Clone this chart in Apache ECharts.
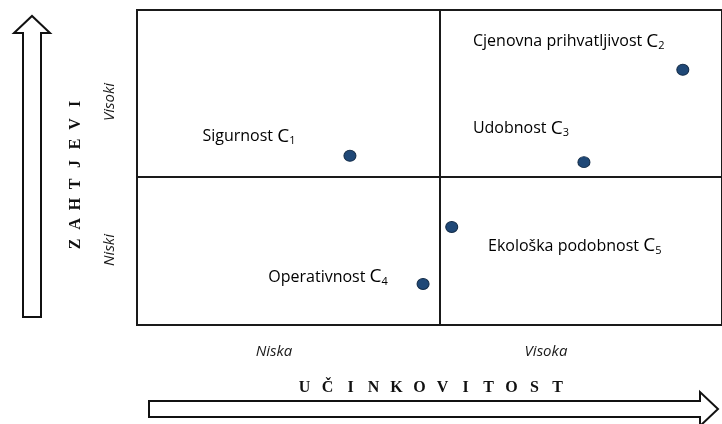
<!DOCTYPE html>
<html>
<head>
<meta charset="utf-8">
<script src="https://cdn.jsdelivr.net/npm/echarts@6/dist/echarts.min.js"></script>
<style>
  html, body { margin: 0; padding: 0; background: #fff; }
  #chart { width: 722px; height: 424px; }
</style>
</head>
<body>
<div id="chart"></div>
<script>
// podaci
const names = ['Sigurnost', 'Cjenovna prihvatljivost', 'Udobnost', 'Operativnost', 'Ekološka podobnost'];
const codes = ['1', '2', '3', '4', '5'];
const effectiveness = [36.4, 93.3, 76.4, 48.9, 53.8];
const requirements = [53.7, 81, 51.7, 13, 31.1];
const xSplit = 51.8;
const ySplit = 47;
const xLevels = ['Niska', 'Visoka'];
const yLevels = ['Niski', 'Visoki'];
const xTitle = 'UČINKOVITOST';
const yTitle = 'ZAHTJEVI';

// pomaci naslova tocaka (px)
const labelOffsets = [[-101, -19], [-114, -28], [-63, -34], [-95, -7], [123, 19]];

const chart = echarts.init(document.getElementById('chart'));

const sans = 'Open Sans';
const serif = 'Liberation Serif';

function spacedLetters(text, cx, cy, step, vertical) {
  const chars = text.split('');
  const n = chars.length;
  return chars.map((ch, i) => ({
    type: 'text',
    x: vertical ? cx : cx - (n - 1) * step / 2 + i * step,
    y: vertical ? cy + (n - 1) * step / 2 - i * step : cy,
    rotation: vertical ? Math.PI / 2 : 0,
    style: {
      text: ch,
      fill: '#111',
      font: 'bold 16px "' + serif + '"',
      align: 'center',
      verticalAlign: 'middle'
    }
  }));
}

function levelText(text, x, y, vertical) {
  return {
    type: 'text',
    x: x,
    y: y,
    rotation: vertical ? Math.PI / 2 : 0,
    style: {
      text: text,
      fill: '#1a1a1a',
      font: 'italic 15px "' + sans + '"',
      align: 'center',
      verticalAlign: 'middle'
    }
  };
}

const arrowStyle = { fill: '#fff', stroke: '#111', lineWidth: 2 };

const graphic = [
  {
    type: 'polygon',
    shape: { points: [[23, 317], [41, 317], [41, 33], [50, 33], [32, 16], [14, 33], [23, 33]] },
    style: arrowStyle
  },
  {
    type: 'polygon',
    shape: { points: [[149, 401], [700, 401], [700, 392], [718, 409], [700, 426], [700, 417], [149, 417]] },
    style: arrowStyle
  },
  levelText(xLevels[0], 274, 352, false),
  levelText(xLevels[1], 546, 352, false),
  levelText(yLevels[0], 110, 250, true),
  levelText(yLevels[1], 110, 102, true)
].concat(spacedLetters(xTitle, 431, 388, 23, false))
 .concat(spacedLetters(yTitle, 76, 174, 20, true));

const option = {
  animation: false,
  grid: {
    left: 137, top: 10, right: -2, bottom: 99,
    show: true, borderColor: '#1a1a1a', borderWidth: 2, backgroundColor: '#fff'
  },
  xAxis: {
    type: 'value', min: 0, max: 100,
    axisLine: { show: false }, axisTick: { show: false },
    axisLabel: { show: false }, splitLine: { show: false }
  },
  yAxis: {
    type: 'value', min: 0, max: 100,
    axisLine: { show: false }, axisTick: { show: false },
    axisLabel: { show: false }, splitLine: { show: false }
  },
  series: [{
    type: 'scatter',
    symbolSize: [12, 11],
    itemStyle: { color: '#1f4877', borderColor: '#122b47', borderWidth: 1, opacity: 1 },
    data: names.map((n, i) => ({
      value: [effectiveness[i], requirements[i]],
      label: {
        show: true,
        position: 'inside',
        offset: labelOffsets[i],
        formatter: '{t|' + n + ' }{c|C}{s|' + codes[i] + '}',
        rich: {
          t: { fontFamily: sans, fontSize: 16, color: '#000', lineHeight: 20 },
          c: { fontFamily: sans, fontSize: 19, color: '#000', lineHeight: 20 },
          s: { fontFamily: sans, fontSize: 11, color: '#000', lineHeight: 11, verticalAlign: 'bottom' }
        }
      }
    })),
    markLine: {
      silent: true,
      symbol: 'none',
      label: { show: false },
      lineStyle: { color: '#1a1a1a', width: 2, type: 'solid' },
      data: [{ xAxis: xSplit }, { yAxis: ySplit }]
    }
  }],
  graphic: graphic
};

chart.setOption(option);
</script>
</body>
</html>
